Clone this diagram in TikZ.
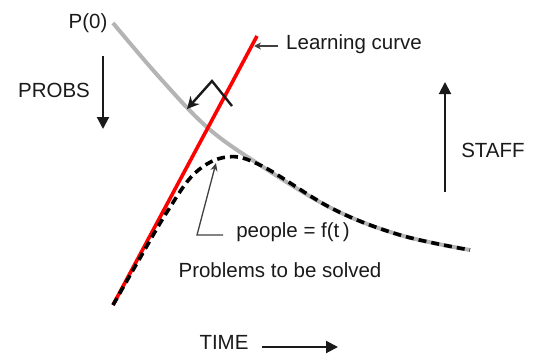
\documentclass[tikz,border=0pt]{standalone}
\usepackage{fontspec}
\setmainfont{Liberation Sans}
\usetikzlibrary{arrows.meta}
\definecolor{ink}{HTML}{1A1A1A}
\definecolor{callout}{HTML}{404040}
\definecolor{decay}{HTML}{B4B4B4}

\begin{document}
\begin{tikzpicture}[x=1pt,y=-1pt,text=ink,font=\fontsize{20.5}{23}\selectfont,
 axis/.style={draw=ink,line width=2pt,-{Triangle[length=12pt,width=12pt]}},
 pointer/.style={draw=callout,line width=1.3pt,-{Stealth[length=8pt,width=7pt]}},
 lbl/.style={inner sep=0pt}]
 \useasboundingbox (0,0) rectangle (534,353);
 % curves
 \draw[decay,line width=4pt] plot[smooth,tension=0.6] coordinates {(113,23) (160,78) (208,128) (260,165) (333,209) (400,235) (470,250)};
 \draw[red,line width=3.6pt] (113,305) coordinate (lstart) -- (257,36) coordinate (lend);
 \draw[black,line width=3.6pt,dash pattern=on 8pt off 5pt] plot[smooth,tension=0.6] coordinates {(113,305) (140,258) (167,212) (195,173) (227,157) (262,166) (333,209) (400,235) (470,250)};
 % labels
 \node[lbl] (p0) at (88,23) {P(0)};
 \node[lbl] (probs) at (54,90) {PROBS};
 \node[lbl] (staff) at (493,150) {STAFF};
 \node[lbl] (time) at (224,342) {TIME};
 \node[lbl,anchor=west] (learn) at (286,44) {Learning curve};
 \node[lbl] (people) at (293,232) {people = f(t\,)};
 \node[lbl] (solved) at (280,270) {Problems to be solved};
 % arrows
 \coordinate (pa) at (103,56); \coordinate (pb) at (103,129);
 \coordinate (sa) at (445,192); \coordinate (sb) at (445,82);
 \coordinate (ta) at (262,347); \coordinate (tb) at (338,347);
 \coordinate (ra) at (232,106); \coordinate (rb) at (212,81); \coordinate (rc) at (187,109);
 \coordinate (la) at (278,46); \coordinate (lb) at (254,46);
 \coordinate (fa) at (223,235); \coordinate (fb) at (197,235); \coordinate (fc) at (216,163);
 \draw[axis] (pa) -- (pb);
 \draw[axis] (sa) -- (sb);
 \draw[axis] (ta) -- (tb);
 \draw[ink,line width=2.4pt,-{Stealth[length=12pt,width=12pt]}] (ra) -- (rb) -- (rc);
 \draw[pointer,-{Stealth[length=7pt,width=7pt]}] (la) -- (lb);
 \draw[pointer] (fa) -- (fb) -- (fc);
\end{tikzpicture}
\end{document}
